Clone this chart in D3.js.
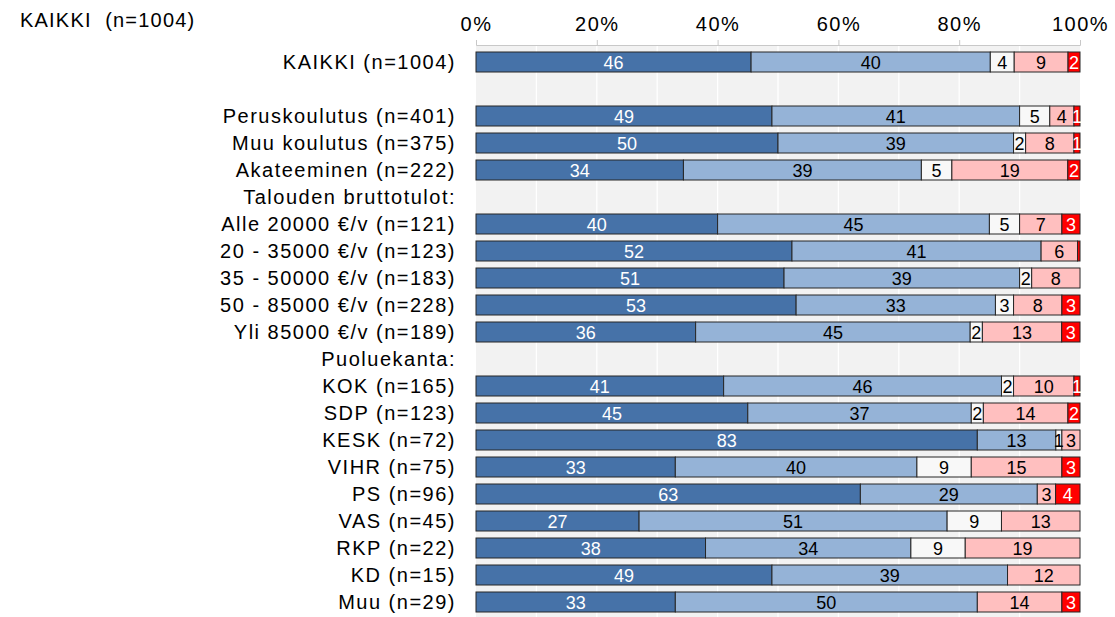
<!DOCTYPE html>
<html>
<head>
<meta charset="utf-8">
<script src="https://cdn.jsdelivr.net/npm/d3@7"></script>
<style>
  html, body { margin: 0; padding: 0; background: #ffffff; }
  svg { display: block; font-family: "Liberation Sans", Arial, sans-serif; }
</style>
</head>
<body>
<svg id="chart" width="1115" height="617"></svg>
<script>
const categories = [
  "KAIKKI (n=1004)", "",
  "Peruskoulutus (n=401)", "Muu koulutus (n=375)", "Akateeminen (n=222)",
  "Talouden bruttotulot:",
  "Alle 20000 €/v (n=121)", "20 - 35000 €/v (n=123)", "35 - 50000 €/v (n=183)",
  "50 - 85000 €/v (n=228)", "Yli 85000 €/v (n=189)",
  "Puoluekanta:",
  "KOK (n=165)", "SDP (n=123)", "KESK (n=72)", "VIHR (n=75)", "PS (n=96)",
  "VAS (n=45)", "RKP (n=22)", "KD (n=15)", "Muu (n=29)"
];
const series1 = [46, null, 49, 50, 34, null, 40, 52, 51, 53, 36, null, 41, 45, 83, 33, 63, 27, 38, 49, 33];
const series2 = [40, null, 41, 39, 39, null, 45, 41, 39, 33, 45, null, 46, 37, 13, 40, 29, 51, 34, 39, 50];
const series3 = [4, null, 5, 2, 5, null, 5, 0, 2, 3, 2, null, 2, 2, 1, 9, 0, 9, 9, 0, 0];
const series4 = [9, null, 4, 8, 19, null, 7, 6, 8, 8, 13, null, 10, 14, 3, 15, 3, 13, 19, 12, 14];
const series5 = [2, null, 1, 1, 2, null, 3, 0.4, 0, 3, 3, null, 1, 2, 0, 3, 4, 0, 0, 0, 3];
const tickValues = [0, 0.2, 0.4, 0.6, 0.8, 1.0];
const titleText = "KAIKKI  (n=1004)";

const seriesList = [series1, series2, series3, series4, series5];
const colors = ["#4672A8", "#95B3D7", "#F8F8F8", "#FFBFBF", "#FF0000"];
const textColors = ["#ffffff", "#000000", "#000000", "#000000", "#ffffff"];

const svg = d3.select("#chart");
const plotLeft = 476, plotRight = 1080, plotTop = 45, plotBottom = 617;

const x = d3.scaleLinear().domain([0, 1]).range([plotLeft, plotRight]);
const y = d3.scaleBand().domain(d3.range(categories.length))
  .range([48.5, 615.5]).paddingInner(7 / 27).paddingOuter(3.5 / 27);

// background
svg.append("rect").attr("x", plotLeft).attr("y", plotTop)
  .attr("width", plotRight - plotLeft).attr("height", plotBottom - plotTop).attr("fill", "#F2F2F2");

// gridlines
svg.append("g").selectAll("line").data(d3.range(1, 10).map(d => d / 10)).join("line")
  .attr("x1", d => x(d)).attr("x2", d => x(d))
  .attr("y1", plotTop).attr("y2", plotBottom)
  .attr("stroke", "#ffffff").attr("stroke-width", 1.3);

// axis
const axis = svg.append("g").attr("transform", `translate(0,${plotTop})`)
  .call(d3.axisTop(x).tickValues(tickValues).tickFormat(d3.format(".0%")).tickSize(5).tickPadding(9));
axis.select(".domain").attr("stroke", "#C8C8C8");
axis.selectAll(".tick line").attr("stroke", "#C8C8C8");
axis.selectAll(".tick text").attr("font-size", 20).attr("fill", "#000")
  .attr("font-family", "'Liberation Sans', Arial, sans-serif").style("letter-spacing", "1.5px");

// title
svg.append("text").attr("x", 20).attr("y", 27).attr("font-size", 20)
  .style("letter-spacing", "1.2px").style("white-space", "pre").text(titleText);

// row labels
svg.append("g").selectAll("text").data(categories).join("text")
  .attr("x", 456).attr("y", (d, i) => y(i) + y.bandwidth() / 2 + 7)
  .attr("text-anchor", "end").attr("font-size", 20)
  .style("letter-spacing", "1.5px").text(d => d);

// bars
const rows = categories.map((c, i) => {
  const vals = seriesList.map(s => s[i]);
  if (vals[0] === null) return null;
  const total = d3.sum(vals);
  let acc = 0;
  return vals.map((v, k) => {
    const seg = { row: i, k, v, x0: acc / total, x1: (acc + v) / total };
    acc += v;
    return seg;
  });
}).filter(r => r !== null);
const segs = rows.flat().filter(s => s.v > 0);

const g = svg.append("g");
g.selectAll("rect").data(segs).join("rect")
  .attr("x", d => x(d.x0)).attr("width", d => x(d.x1) - x(d.x0))
  .attr("y", d => y(d.row)).attr("height", y.bandwidth())
  .attr("fill", d => colors[d.k]).attr("stroke", "#262626").attr("stroke-width", 1);

g.selectAll("text").data(segs.filter(s => Math.round(s.v) > 0)).join("text")
  .attr("x", d => (x(d.x0) + x(d.x1)) / 2)
  .attr("y", d => y(d.row) + y.bandwidth() / 2 + 7)
  .attr("text-anchor", "middle").attr("font-size", 18)
  .attr("fill", d => textColors[d.k]).text(d => Math.round(d.v));
</script>
</body>
</html>
